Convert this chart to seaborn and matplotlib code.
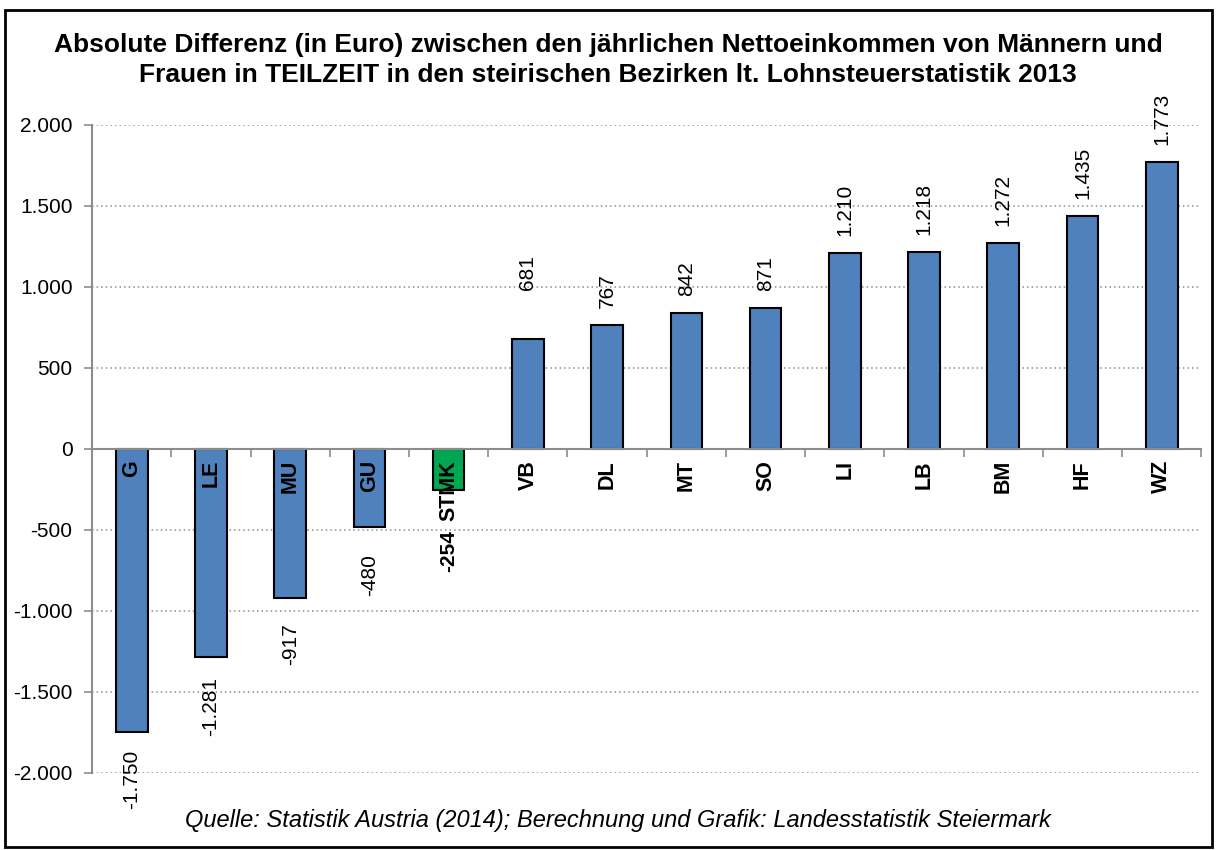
import matplotlib
matplotlib.use("Agg")
import matplotlib.pyplot as plt
import seaborn as sns
import pandas as pd
from matplotlib.ticker import FuncFormatter, FixedLocator
from matplotlib.patches import Rectangle

# ---- data ----
categories = ["G", "LE", "MU", "GU", "STMK", "VB", "DL", "MT", "SO", "LI", "LB", "BM", "HF", "WZ"]
values = [-1750, -1281, -917, -480, -254, 681, 767, 842, 871, 1210, 1218, 1272, 1435, 1773]
highlight = "STMK"

title_line1 = "Absolute Differenz (in Euro) zwischen den jährlichen Nettoeinkommen von Männern und"
title_line2 = "Frauen in TEILZEIT in den steirischen Bezirken lt. Lohnsteuerstatistik 2013"
source = "Quelle: Statistik Austria (2014); Berechnung und Grafik: Landesstatistik Steiermark"

BLUE = "#4F81BD"
GREEN = "#00A650"

sns.set_style("white")
plt.rcParams["font.family"] = ["Liberation Sans", "DejaVu Sans"]
plt.rcParams["text.color"] = "black"

df = pd.DataFrame({"cat": categories, "val": values})
palette = {c: (GREEN if c == highlight else BLUE) for c in categories}

fig = plt.figure(figsize=(12.16, 8.5), dpi=100)
ax = fig.add_axes([0.0757, 0.0906, 0.9123, 0.7624])

sns.barplot(data=df, x="cat", y="val", hue="cat", palette=palette, legend=False,
            width=0.4, edgecolor="black", linewidth=1.5, ax=ax, saturation=1)

ax.set_xlim(-0.5, len(categories) - 0.5)
ax.set_ylim(-2000, 2000)
ax.set_xlabel("")
ax.set_ylabel("")

# y axis
ax.yaxis.set_major_locator(FixedLocator(range(-2000, 2001, 500)))
ax.yaxis.set_major_formatter(FuncFormatter(lambda v, p: f"{int(v):,}".replace(",", ".")))
ax.tick_params(axis="y", length=6, width=1.2, color="#8c8c8c", labelsize=15,
               labelcolor="black", pad=8, direction="out", left=True)
for yv in range(-2000, 2001, 500):
    if yv != 0:
        ax.axhline(yv, color="#8c8c8c", linestyle=(0, (1, 2)), linewidth=1.1, zorder=0)

# x axis at zero
for s in ["top", "right"]:
    ax.spines[s].set_visible(False)
ax.spines["left"].set_color("#8c8c8c")
ax.spines["left"].set_linewidth(1.5)
ax.spines["bottom"].set_position(("data", 0))
ax.spines["bottom"].set_color("#8c8c8c")
ax.spines["bottom"].set_linewidth(1.5)
ax.spines["bottom"].set_zorder(1)
ax.xaxis.set_major_locator(FixedLocator([i + 0.5 for i in range(-1, len(categories))]))
ax.set_xticklabels([])
ax.tick_params(axis="x", length=6, width=1.2, color="#8c8c8c", direction="out", bottom=True)

# category labels inside bars
for i, c in enumerate(categories):
    ax.annotate(c, (i, 0), xytext=(0, -11), textcoords="offset pixels",
                rotation=90, ha="center", va="top", fontsize=15.5,
                fontweight="bold", color="black", zorder=5)

# value labels
gap_default = 17
gap_adjust = {"VB": 49, "MU": 26, "GU": 27, "STMK": 40, "LE": 20}
for i, (c, v) in enumerate(zip(categories, values)):
    txt = f"{v:,}".replace(",", ".")
    gap = gap_adjust.get(c, gap_default)
    if v >= 0:
        ax.annotate(txt, (i, v), xytext=(0, gap), textcoords="offset pixels",
                    rotation=90, ha="center", va="bottom", fontsize=15,
                    fontweight="bold" if c == highlight else "normal", zorder=5)
    else:
        ax.annotate(txt, (i, v), xytext=(0, -gap), textcoords="offset pixels",
                    rotation=90, ha="center", va="top", fontsize=15,
                    fontweight="bold" if c == highlight else "normal", zorder=5)

# title and source
fig.text(0.5, 1 - 45 / 850, title_line1, ha="center", va="center", fontsize=19,
         fontweight="bold")
fig.text(0.5, 1 - 75 / 850, title_line2, ha="center", va="center", fontsize=19,
         fontweight="bold")
fig.text(0.508, 0.035, source, ha="center", va="center", fontsize=17, style="italic")

# figure border
fig.patches.append(Rectangle((0.004, 0.003), 0.993, 0.985, transform=fig.transFigure,
                             fill=False, edgecolor="black", linewidth=2))

fig.savefig("out.png", dpi=100)
